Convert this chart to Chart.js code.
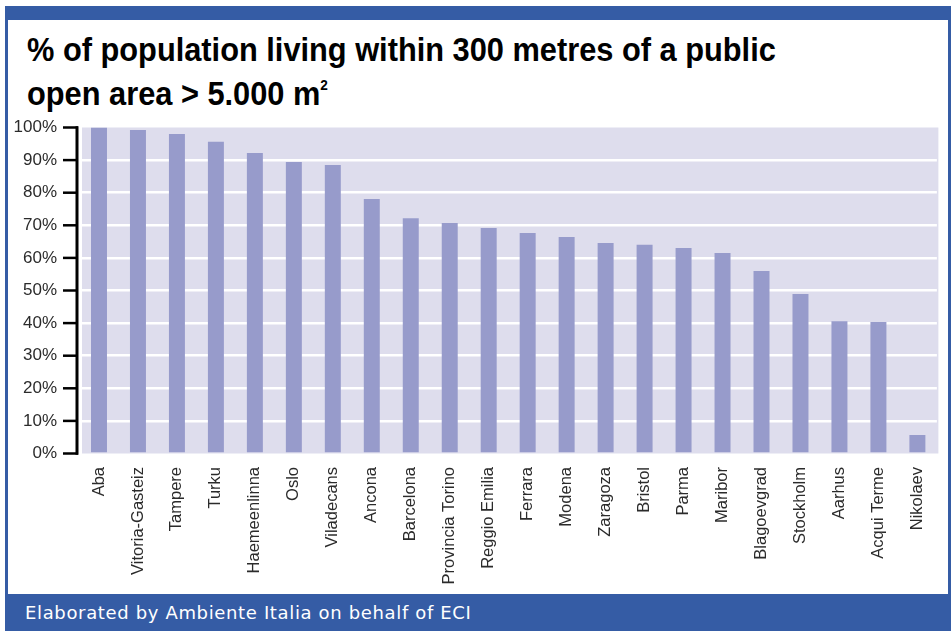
<!DOCTYPE html>
<html>
<head>
<meta charset="utf-8">
<script src="https://cdn.jsdelivr.net/npm/chart.js@4/dist/chart.umd.min.js"></script>
<style>
  html, body { margin: 0; padding: 0; background: #ffffff; }
  #page { position: relative; width: 951px; height: 631px; overflow: hidden; background: #ffffff; }
  .band { position: absolute; background: #355CA5; }
  #title {
    position: absolute; left: 27px; top: 31px;
    font-family: "Liberation Sans", Arial, sans-serif;
    font-weight: bold; font-size: 34px; line-height: 36px; letter-spacing: 0;
    color: #000000; white-space: nowrap;
    transform: scaleX(0.905); transform-origin: 0 0;
  }
  #title sup { font-size: 15px; vertical-align: 15px; }
  #footer {
    position: absolute; left: 25px; top: 603px;
    font-family: "DejaVu Sans", sans-serif; font-size: 18px; line-height: 20px;
    letter-spacing: 0.65px; color: #ffffff; white-space: nowrap;
  }
  #chart { position: absolute; left: 0; top: 0; }
</style>
</head>
<body>
<div id="page">
  <div class="band" style="left:5px; top:6px; width:946px; height:14px;"></div>
  <div class="band" style="left:5px; top:6px; width:3px; height:590px;"></div>
  <div class="band" style="left:948px; top:6px; width:3px; height:590px;"></div>
  <div class="band" style="left:5px; top:594px; width:946px; height:37px;"></div>
  <div id="title">% of population living within 300 metres of a public<br>open area &gt; 5.000 m<sup>2</sup></div>
  <div id="footer">Elaborated by Ambiente Italia on behalf of ECI</div>
  <canvas id="chart" width="951" height="631"></canvas>
</div>
<script>
// Cities, ordered from highest to lowest share
const cities = [
  'Aba', 'Vitoria-Gasteiz', 'Tampere', 'Turku', 'Haemeenlinna', 'Oslo',
  'Viladecans', 'Ancona', 'Barcelona', 'Provincia Torino', 'Reggio Emilia',
  'Ferrara', 'Modena', 'Zaragoza', 'Bristol', 'Parma', 'Maribor',
  'Blagoevgrad', 'Stockholm', 'Aarhus', 'Acqui Terme', 'Nikolaev'
];

// % of population living within 300 m of a public open area > 5.000 m2
const sharePercent = [
  100, 99.2, 98.0, 95.6, 92.2, 89.4,
  88.5, 78.1, 72.2, 70.7, 69.2,
  67.6, 66.4, 64.6, 64.0, 63.0, 61.5,
  56.0, 48.9, 40.6, 40.3, 5.7
];

// Value axis ticks
const yTickValues = [0, 10, 20, 30, 40, 50, 60, 70, 80, 90, 100];
const yTickLabels = ['0%', '10%', '20%', '30%', '40%', '50%', '60%', '70%', '80%', '90%', '100%'];

// Lavender panel behind the bars
const plotBackground = {
  id: 'plotBackground',
  beforeDraw(chart) {
    const { ctx, chartArea: a } = chart;
    ctx.save();
    ctx.fillStyle = '#DEDDED';
    ctx.fillRect(a.left + 2.5, a.top, a.right - a.left - 1, a.bottom - a.top);
    ctx.restore();
  }
};

// Black value axis with outward tick marks, set just left of the panel
const valueAxisLine = {
  id: 'valueAxisLine',
  afterDatasetsDraw(chart) {
    const { ctx, chartArea: a } = chart;
    const y = chart.scales.y;
    const x0 = a.left - 2.5;
    ctx.save();
    ctx.strokeStyle = '#000000';
    ctx.lineWidth = 3;
    ctx.beginPath();
    ctx.moveTo(x0, y.getPixelForValue(100) - 1.2);
    ctx.lineTo(x0, y.getPixelForValue(0) + 1.2);
    ctx.stroke();
    ctx.lineWidth = 2.5;
    y.ticks.forEach(t => {
      const py = y.getPixelForValue(t.value);
      ctx.beginPath();
      ctx.moveTo(x0 - 14, py);
      ctx.lineTo(x0 + 1, py);
      ctx.stroke();
    });
    ctx.restore();
  }
};

new Chart(document.getElementById('chart'), {
  type: 'bar',
  data: {
    labels: cities,
    datasets: [{
      data: sharePercent,
      backgroundColor: '#979BCB',
      borderWidth: 0,
      barPercentage: 0.41,
      categoryPercentage: 1.0
    }]
  },
  options: {
    responsive: false,
    animation: false,
    devicePixelRatio: 1,
    layout: { padding: { top: 127.5, right: 13.5, left: 0, bottom: 0 } },
    plugins: {
      legend: { display: false },
      tooltip: { enabled: false },
      title: { display: false }
    },
    scales: {
      x: {
        grid: { display: false, drawTicks: false },
        border: { display: false },
        ticks: {
          autoSkip: false,
          minRotation: 90,
          maxRotation: 90,
          padding: 13.5,
          color: '#2b2b2b',
          font: { family: '"Liberation Sans", Arial, sans-serif', size: 16.5 }
        },
        afterFit(scale) { scale.height = 177.5; }
      },
      y: {
        min: 0,
        max: 100,
        afterBuildTicks(scale) {
          scale.ticks = yTickValues.map(v => ({ value: v }));
        },
        grid: {
          drawTicks: false,
          lineWidth: 2.5,
          color: ctx => (ctx.tick && (ctx.tick.value === 0 || ctx.tick.value === 100)) ? 'rgba(0,0,0,0)' : '#FFFFFF'
        },
        border: { display: false },
        ticks: {
          padding: 22.5,
          color: '#2b2b2b',
          font: { family: '"Liberation Sans", Arial, sans-serif', size: 17 },
          callback: v => yTickLabels[yTickValues.indexOf(v)]
        },
        afterFit(scale) { scale.width = 79.5; }
      }
    }
  },
  plugins: [plotBackground, valueAxisLine]
});
</script>
</body>
</html>
